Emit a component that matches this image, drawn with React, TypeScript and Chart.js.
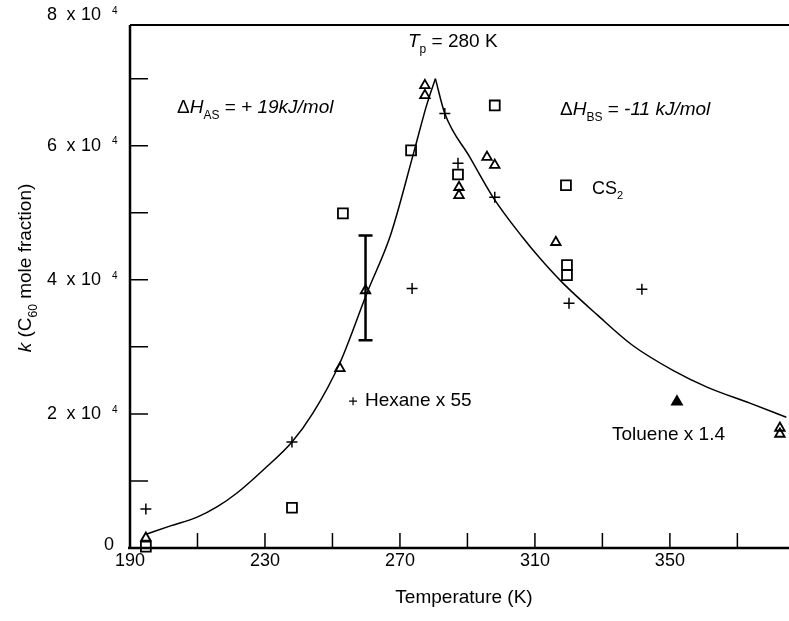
import React, { useEffect, useRef } from "react";
import { Chart, registerables } from "chart.js";

Chart.register(...registerables);

// ---- data (temperature K, k in units of 1e4 mole fraction) ----
const curveLeftT = [195, 202, 209.9, 216, 221.7, 229.4, 238, 244.2, 252.2, 260.2, 267.3, 274.1, 278, 280.5];
const curveLeftK = [0.21, 0.33, 0.46, 0.62, 0.82, 1.16, 1.58, 2.01, 2.76, 3.8, 4.68, 5.9, 6.62, 7.0];
const curveRightT = [280.5, 283.3, 290.7, 297.6, 306.4, 311.5, 318.3, 328.4, 339, 350.9, 361, 373.7, 384.5];
const curveRightK = [7.0, 6.48, 5.83, 5.23, 4.63, 4.32, 3.95, 3.48, 3.02, 2.65, 2.4, 2.16, 1.95];

const cs2T = [194.7, 238, 253.1, 273.3, 287.2, 298.1, 319.5, 319.5];
const cs2K = [0.02, 0.6, 4.99, 5.93, 5.57, 6.6, 4.22, 4.07];

const triT = [194.7, 252.2, 259.8, 277.4, 277.4, 287.5, 287.5, 295.8, 298.1, 316.2, 382.6, 382.6];
const triK = [0.15, 2.68, 3.84, 6.9, 6.75, 5.38, 5.26, 5.83, 5.71, 4.56, 1.79, 1.7];

const hexT = [194.7, 238, 273.6, 283.3, 287.2, 298.1, 320.1, 341.7];
const hexK = [0.58, 1.58, 3.87, 6.48, 5.74, 5.23, 3.65, 3.86];

const errT = [259.8];
const errLow = [3.1];
const errHigh = [4.66];

const legendCs2T = [319.2];
const legendCs2K = [5.41];
const legendHexT = [256.1];
const legendHexK = [2.19];
const legendTolT = [352.1];
const legendTolK = [2.18];

const xTickVals = [210, 230, 250, 270, 290, 310, 330, 350, 370];
const xLabelVals = [190, 230, 270, 310, 350];
const yTickVals = [1, 2, 3, 4, 5, 6, 7];
const yLabelVals = [0, 2, 4, 6, 8];

const SCALE = 1e4;
const FONT = '"Liberation Sans", Arial, Helvetica, sans-serif';

const pts = (xs: number[], ys: number[]) => xs.map((x, i) => ({ x, y: ys[i] * SCALE }));

type Seg = { t: string; it?: boolean; sub?: boolean; sup?: boolean };

function drawRich(ctx: CanvasRenderingContext2D, segs: Seg[], x: number, y: number, size: number, align: "left" | "center" | "right") {
  const fontFor = (s: Seg) => `${s.it ? "italic " : ""}${s.sub || s.sup ? Math.round(size * 0.62) : size}px ${FONT}`;
  let total = 0;
  for (const s of segs) {
    ctx.font = fontFor(s);
    total += ctx.measureText(s.t).width;
  }
  let cx = align === "right" ? x - total : align === "center" ? x - total / 2 : x;
  ctx.textAlign = "left";
  ctx.textBaseline = "middle";
  for (const s of segs) {
    ctx.font = fontFor(s);
    const dy = s.sub ? size * 0.38 : s.sup ? -size * 0.3 : 0;
    ctx.fillText(s.t, cx, y + dy);
    cx += ctx.measureText(s.t).width;
  }
}

const framePlugin = {
  id: "frame",
  afterDatasetsDraw(chart: any) {
    const ctx: CanvasRenderingContext2D = chart.ctx;
    const xs = chart.scales.x;
    const ys = chart.scales.y;
    const { left, right, top, bottom } = chart.chartArea;
    ctx.save();
    ctx.strokeStyle = "#000";
    ctx.fillStyle = "#000";
    ctx.lineCap = "butt";

    // error bar
    ctx.lineWidth = 2.5;
    errT.forEach((t, i) => {
      const px = xs.getPixelForValue(t);
      const pLo = ys.getPixelForValue(errLow[i] * SCALE);
      const pHi = ys.getPixelForValue(errHigh[i] * SCALE);
      ctx.beginPath();
      ctx.moveTo(px, pLo);
      ctx.lineTo(px, pHi);
      ctx.moveTo(px - 7, pLo);
      ctx.lineTo(px + 7, pLo);
      ctx.moveTo(px - 7, pHi);
      ctx.lineTo(px + 7, pHi);
      ctx.stroke();
    });

    // axes and frame
    ctx.lineWidth = 2.5;
    ctx.beginPath();
    ctx.moveTo(left - 2, bottom);
    ctx.lineTo(right, bottom);
    ctx.moveTo(left, bottom);
    ctx.lineTo(left, top);
    ctx.stroke();
    ctx.lineWidth = 2;
    ctx.beginPath();
    ctx.moveTo(left, top);
    ctx.lineTo(right, top);
    ctx.stroke();

    // inward ticks
    ctx.lineWidth = 1.5;
    ctx.beginPath();
    xTickVals.forEach((v) => {
      const px = xs.getPixelForValue(v);
      ctx.moveTo(px, bottom);
      ctx.lineTo(px, bottom - 15);
    });
    yTickVals.forEach((v) => {
      const py = ys.getPixelForValue(v * SCALE);
      ctx.moveTo(left, py);
      ctx.lineTo(left + 18, py);
    });
    ctx.stroke();

    // x tick labels
    ctx.font = `18px ${FONT}`;
    ctx.textAlign = "center";
    ctx.textBaseline = "top";
    xLabelVals.forEach((v) => {
      ctx.fillText(String(v), xs.getPixelForValue(v), bottom + 4);
    });

    // y tick labels: "N x 10 ⁴"
    ctx.textBaseline = "middle";
    yLabelVals.forEach((v) => {
      let py = ys.getPixelForValue(v * SCALE);
      if (v === 0) {
        ctx.font = `18px ${FONT}`;
        ctx.textAlign = "right";
        ctx.fillText("0", 114, py - 3);
        return;
      }
      if (py < 20) py = 15;
      ctx.font = `18px ${FONT}`;
      ctx.textAlign = "right";
      ctx.fillText("10", 101, py);
      ctx.textAlign = "center";
      ctx.fillText("x", 71, py);
      ctx.fillText(String(v), 52, py);
      ctx.font = `10px ${FONT}`;
      ctx.textAlign = "left";
      ctx.fillText("4", 112, py - 4);
    });

    // axis titles
    drawRich(ctx, [{ t: "Temperature (K)" }], 464, 598, 19, "center");
    ctx.save();
    ctx.translate(26, 268);
    ctx.rotate(-Math.PI / 2);
    drawRich(ctx, [{ t: "k", it: true }, { t: " (C" }, { t: "60", sub: true }, { t: " mole fraction)" }], 0, 0, 19, "center");
    ctx.restore();

    // annotations
    drawRich(ctx, [{ t: "T", it: true }, { t: "p", sub: true }, { t: " = 280 K" }], 408, 42, 19, "left");
    drawRich(ctx, [{ t: "\u0394" }, { t: "H", it: true }, { t: "AS", sub: true }, { t: " = " }, { t: "+ 19kJ/mol", it: true }], 177, 108, 19, "left");
    drawRich(ctx, [{ t: "\u0394" }, { t: "H", it: true }, { t: "BS", sub: true }, { t: " = " }, { t: "-11 kJ/mol", it: true }], 560, 110, 19, "left");
    drawRich(ctx, [{ t: "CS" }, { t: "2", sub: true }], 592, 189, 18, "left");
    drawRich(ctx, [{ t: "Hexane x 55" }], 365, 401, 19, "left");
    drawRich(ctx, [{ t: "Toluene x 1.4" }], 612, 435, 19, "left");

    ctx.restore();
  },
};

export default function App() {
  const ref = useRef<HTMLCanvasElement | null>(null);
  useEffect(() => {
    if (!ref.current) return;
    const open = "rgba(255,255,255,0)";
    const chart = new Chart(ref.current, {
      type: "scatter",
      data: {
        datasets: [
          {
            type: "line",
            data: pts(curveLeftT, curveLeftK),
            borderColor: "#000",
            borderWidth: 1.5,
            pointRadius: 0,
            cubicInterpolationMode: "monotone",
            fill: false,
          } as any,
          {
            type: "line",
            data: pts(curveRightT, curveRightK),
            borderColor: "#000",
            borderWidth: 1.5,
            pointRadius: 0,
            cubicInterpolationMode: "monotone",
            fill: false,
          } as any,
          {
            data: pts(cs2T, cs2K),
            pointStyle: "rect",
            pointRadius: 7,
            pointBackgroundColor: open,
            pointBorderColor: "#000",
            pointBorderWidth: 1.8,
            clip: false,
          } as any,
          {
            data: pts(triT, triK),
            pointStyle: "triangle",
            pointRadius: 5.5,
            pointBackgroundColor: open,
            pointBorderColor: "#000",
            pointBorderWidth: 1.8,
            clip: false,
          } as any,
          {
            data: pts(hexT, hexK),
            pointStyle: "cross",
            pointRadius: 5.5,
            pointBorderColor: "#000",
            pointBorderWidth: 1.5,
            clip: false,
          } as any,
          {
            data: pts(legendCs2T, legendCs2K),
            pointStyle: "rect",
            pointRadius: 7,
            pointBackgroundColor: open,
            pointBorderColor: "#000",
            pointBorderWidth: 1.8,
          } as any,
          {
            data: pts(legendHexT, legendHexK),
            pointStyle: "cross",
            pointRadius: 4,
            pointBorderColor: "#000",
            pointBorderWidth: 1.2,
          } as any,
          {
            data: pts(legendTolT, legendTolK),
            pointStyle: "triangle",
            pointRadius: 6,
            pointBackgroundColor: "#000",
            pointBorderColor: "#000",
            pointBorderWidth: 1.5,
          } as any,
        ],
      },
      options: {
        responsive: false,
        animation: false,
        devicePixelRatio: 1,
        layout: { autoPadding: false, padding: { left: 130, right: 0, top: 25, bottom: 73 } },
        plugins: { legend: { display: false }, tooltip: { enabled: false } },
        events: [],
        scales: {
          x: { type: "linear", min: 190, max: 385.3, display: false },
          y: { type: "linear", min: 0, max: 7.8 * SCALE, display: false },
        },
      } as any,
      plugins: [framePlugin],
    });
    return () => chart.destroy();
  }, []);
  return (
    <div style={{ position: "absolute", left: 0, top: 0, width: 789, height: 621, background: "#fff" }}>
      <canvas ref={ref} width={789} height={621} style={{ display: "block" }} />
    </div>
  );
}
